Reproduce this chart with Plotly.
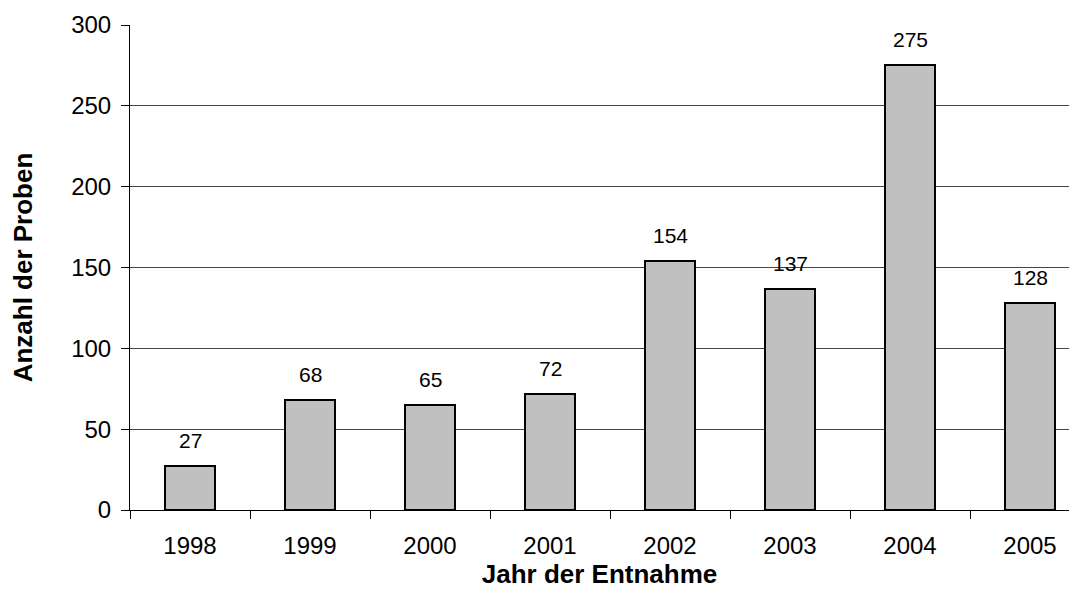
import plotly.graph_objects as go

years = ["1998", "1999", "2000", "2001", "2002", "2003", "2004", "2005"]
counts = [27, 68, 65, 72, 154, 137, 275, 128]
y_ticks = [0, 50, 100, 150, 200, 250, 300]

FONT = "Liberation Sans, Arial, sans-serif"

fig = go.Figure()
fig.add_trace(go.Bar(
    x=years, y=counts, width=0.42,
    marker=dict(color="#c0c0c0", line=dict(color="#000000", width=2)),
    hoverinfo="skip",
))
for i, v in enumerate(counts):
    fig.add_annotation(x=i, y=v, xref="x", yref="y", text=str(v), showarrow=False,
                       yanchor="bottom", yshift=12,
                       font=dict(family=FONT, size=21, color="#000"))

# page body has an 8px margin, so the figure is 16px smaller than the window
fig.update_layout(
    width=1061, height=590,
    margin=dict(l=122, r=0, t=17, b=88, autoexpand=False),
    paper_bgcolor="white", plot_bgcolor="white",
    showlegend=False,
    bargap=0,
)
fig.update_xaxes(
    type="category", range=[-0.5, 7.325],
    tickson="boundaries", ticks="outside", ticklen=8, tickcolor="#000",
    ticklabelstandoff=14,
    showline=True, linecolor="#000", linewidth=1,
    showgrid=False,
    tickfont=dict(family=FONT, size=24, color="#000"),
    title=dict(text="<b>Jahr der Entnahme</b>", standoff=2,
               font=dict(family=FONT, size=26, color="#000")),
)
fig.update_yaxes(
    range=[0, 300], tickvals=y_ticks,
    ticks="outside", ticklen=8, tickcolor="#000",
    ticklabelstandoff=5,
    showline=True, linecolor="#000", linewidth=1,
    showgrid=True, gridcolor="#444", gridwidth=1,
    zeroline=False,
    tickfont=dict(family=FONT, size=24, color="#000"),
    title=dict(text="<b>Anzahl der Proben</b>", standoff=31,
               font=dict(family=FONT, size=26, color="#000")),
)
fig.write_html("out.html")
